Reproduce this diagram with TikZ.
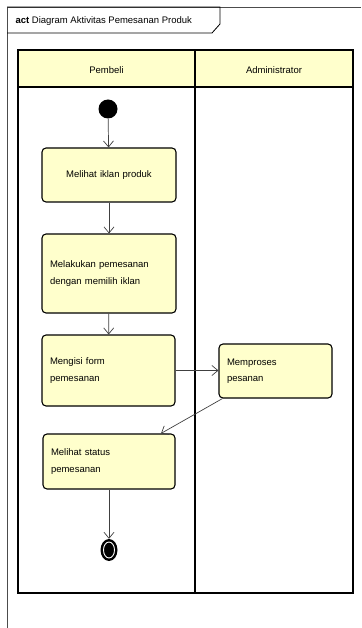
\documentclass[tikz,border=0pt]{standalone}
\usepackage{fontspec}
\setmainfont{Liberation Sans}
\usetikzlibrary{positioning, arrows.meta, shapes.geometric}
\definecolor{umlyellow}{RGB}{255,255,204}

\begin{document}
\begin{tikzpicture}[x=1pt, y=-1pt,
  activity/.style={draw, line width=1.1pt, rounded corners=4pt, fill=umlyellow,
    font=\fontsize{9.5}{16.5}\selectfont, align=left, inner xsep=8pt, inner ysep=0pt},
  flow/.style={draw=black!75, line width=0.7pt, -{Straight Barb[length=6pt, width=10pt]}},
  lanetext/.style={font=\fontsize{9.5}{11}\selectfont}]
\useasboundingbox (0,0) rectangle (361,628);

% Frame and title
\draw[black!70, line width=0.9pt] (7,628) -- (7,7) -- (361,7);
\draw[line width=0.8pt] (7,7) -- (220,7) -- (220,24) -- (212,33) -- (7,33);
\node[anchor=west, lanetext] (title) at (12,21) {\textbf{act} Diagram Aktivitas Pemesanan Produk};

% Swimlanes
\fill[umlyellow] (18,50) rectangle (353,87);
\draw[line width=1.3pt] (18,50) rectangle (353,593);
\draw[line width=1.3pt] (18,87) -- (353,87);
\draw[line width=1.3pt] (195,50) -- (195,593);
\node[lanetext] (pembeli) at (106.5,70) {Pembeli};
\node[lanetext] (admin) at (274,70) {Administrator};

% Activities
\node[circle, fill=black, minimum size=19pt, inner sep=0pt] (start) at (108,109) {};
\node[activity, align=center, text width=118pt, minimum height=54pt] (act1) at (109,175) {Melihat iklan produk};
\node[activity, text width=118pt, minimum height=79pt] (act2) at (109,273.5) {Melakukan pemesanan\\dengan memilih iklan};
\node[activity, text width=117pt, minimum height=71pt] (act3) at (108.5,370.5) {Mengisi form\\pemesanan};
\node[activity, text width=97pt, minimum height=54pt] (act4) at (275.5,371) {Memproses\\pesanan};
\node[activity, text width=116pt, minimum height=55pt] (act5) at (109,461.5) {Melihat status\\pemesanan};
\node[ellipse, fill=black, minimum width=17pt, minimum height=22pt, inner sep=0pt] (end) at (109,550) {};
\draw[white, line width=0.9pt] (end.center) ellipse (5.5pt and 8pt);

% Flows
\draw[flow] (start) -- (act1);
\draw[flow] (act1) -- (act2);
\draw[flow] (act2) -- (act3);
\draw[flow] (act3.east) -- (act3.east -| act4.west);
\draw[flow] ([xshift=4pt]act4.south west) -- ([xshift=52pt]act5.north);
\draw[flow] (act5) -- (end);
\end{tikzpicture}
\end{document}
